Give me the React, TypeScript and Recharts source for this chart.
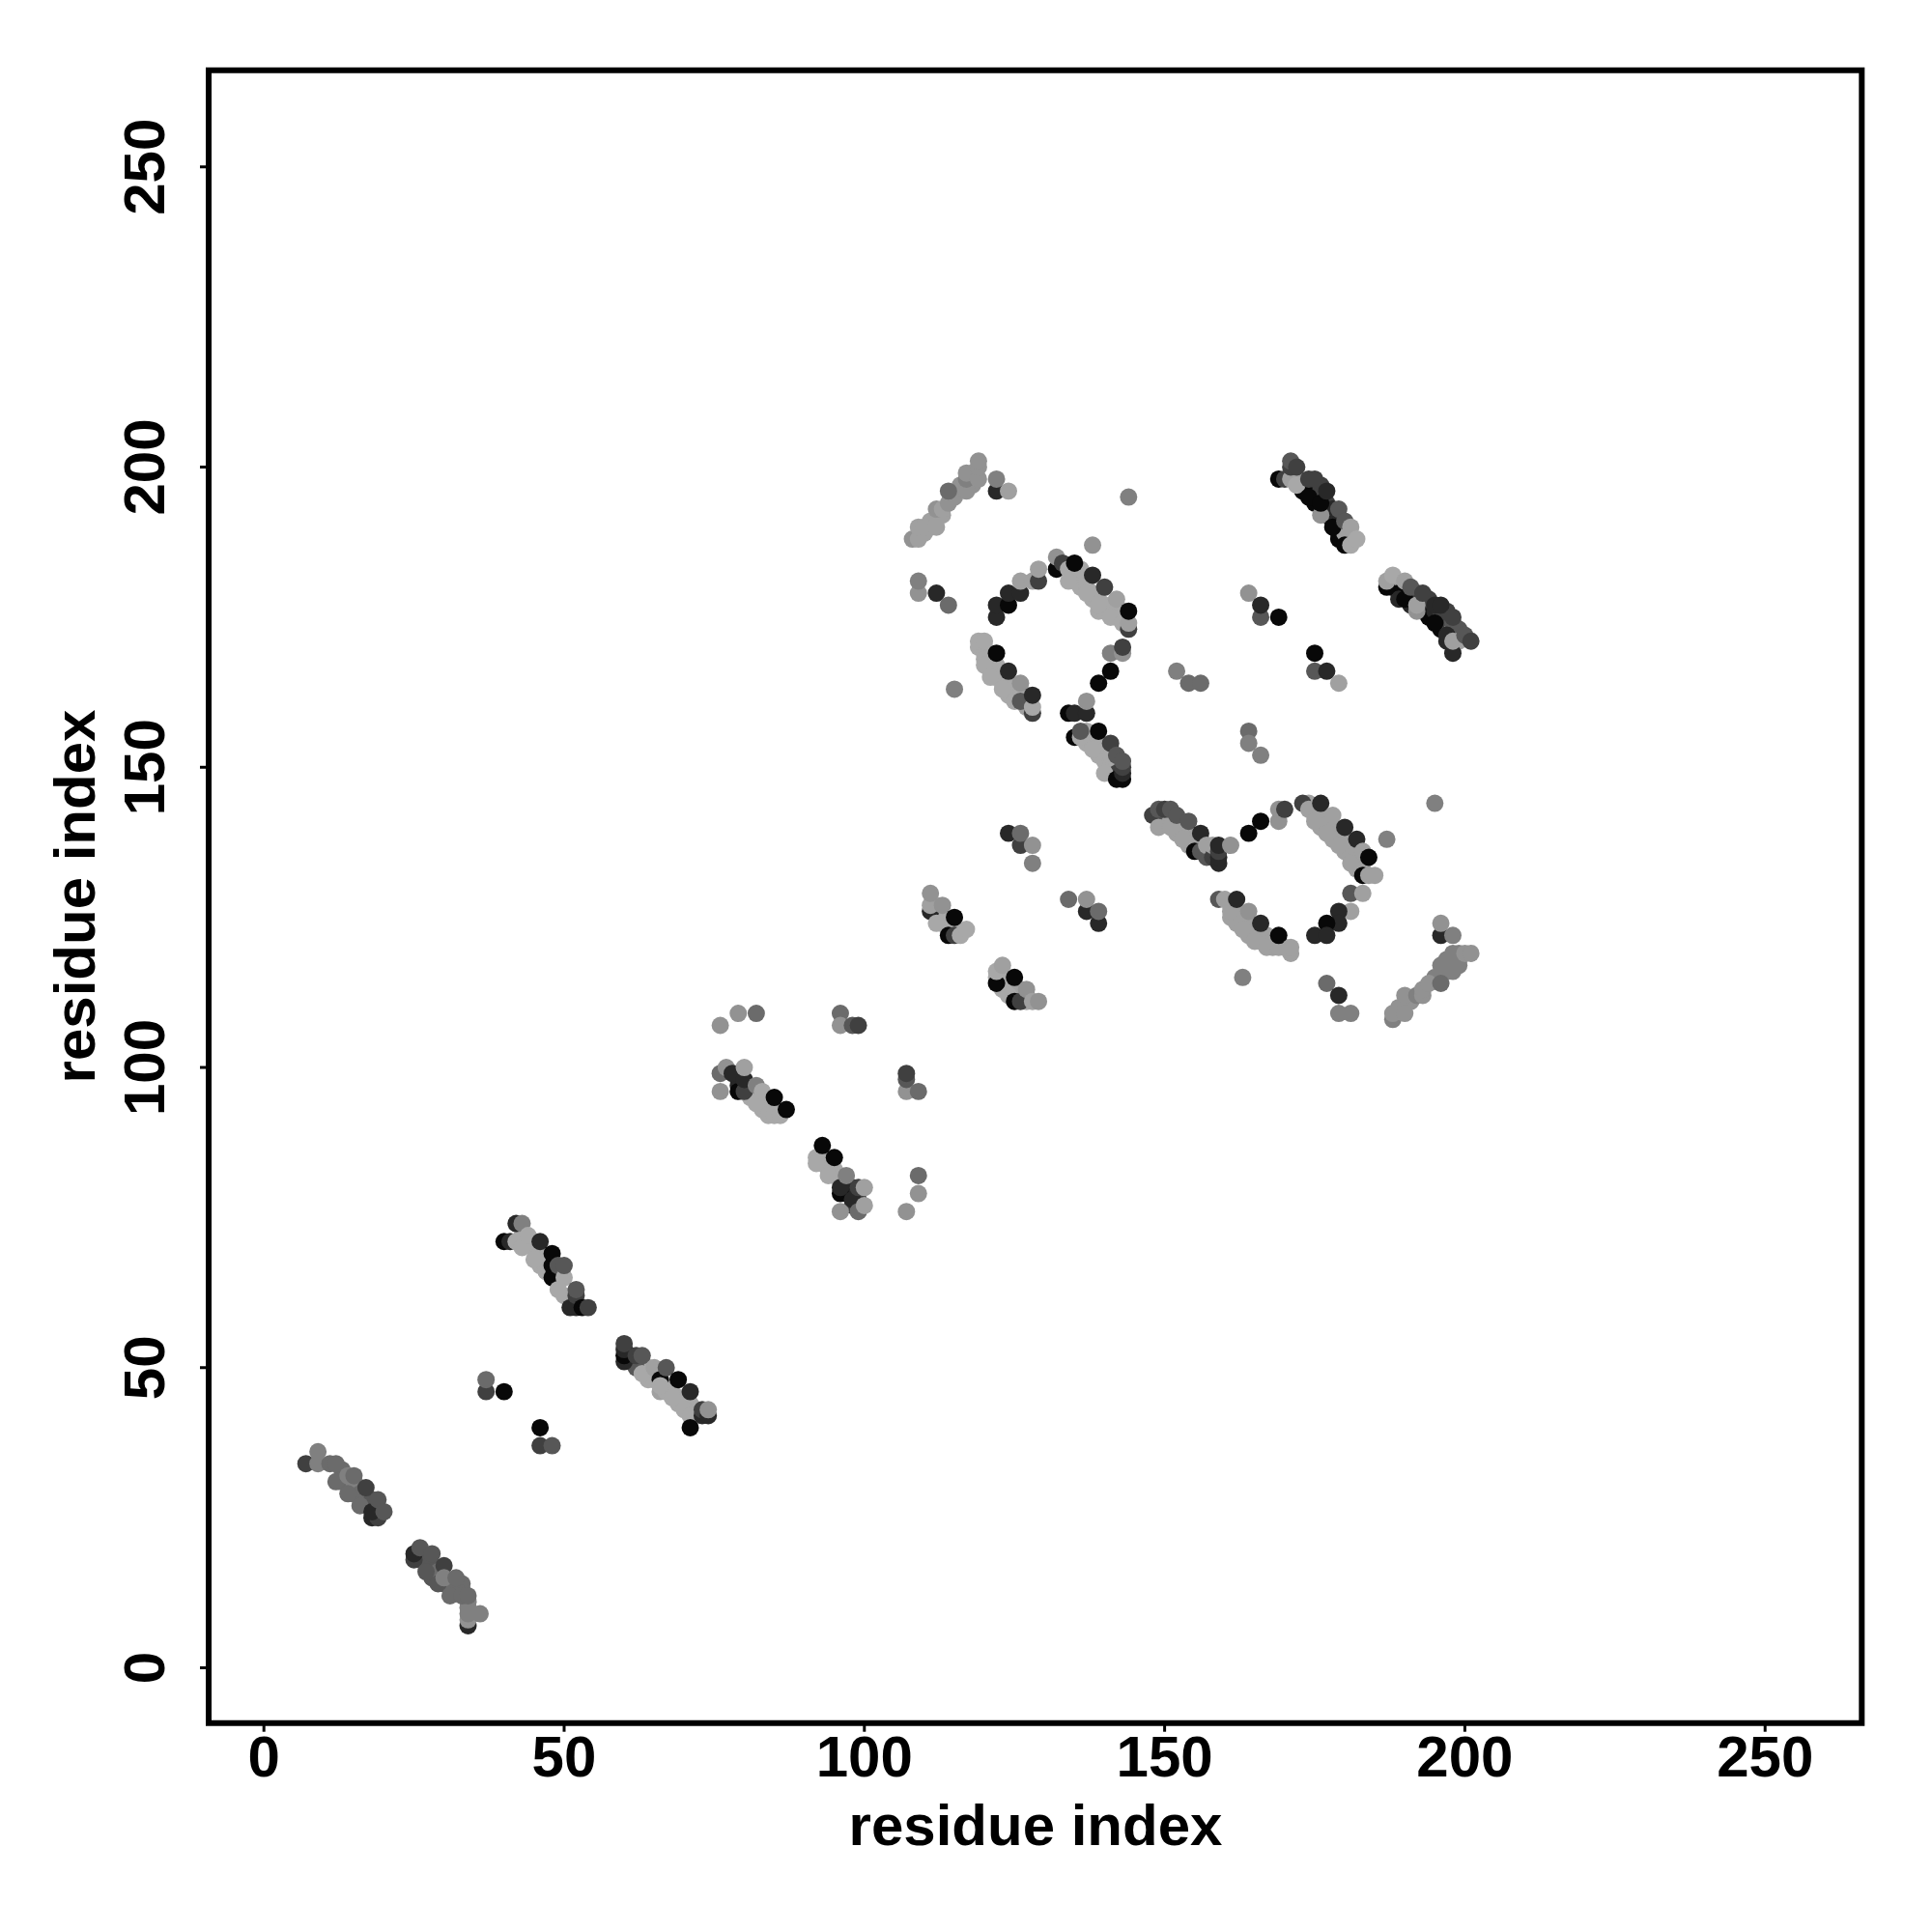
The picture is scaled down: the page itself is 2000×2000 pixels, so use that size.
import { ScatterChart, Scatter, XAxis, YAxis, ZAxis, Cell, ReferenceArea } from "recharts"

// contact points: [residue i, residue j, shade level]
// points mostly hidden under the others, drawn first
const crowdedLow = [
  [13, 33, 4], [13, 31, 4], [15, 29, 4], [15, 31, 5], [16, 30, 5], [17, 28, 4], [16, 29, 4], [18, 28, 3], [18, 27, 3],
  [27, 18, 3], [26, 18, 3], [28, 17, 3], [28, 15, 3], [29, 16, 4], [30, 14, 3], [31, 14, 4], [33, 13, 4], [33, 14, 4],
  [32, 13, 4], [34, 10, 5], [34, 11, 5],
  [43, 72, 8], [44, 71, 8], [45, 70, 8], [46, 69, 8], [46, 67, 8], [47, 68, 8], [48, 66, 8], [49, 65, 8], [49, 64, 8],
  [50, 62, 8], [64, 50, 8], [64, 48, 8], [65, 48, 8], [66, 46, 7], [67, 47, 8], [67, 46, 8], [68, 46, 8], [69, 45, 8],
  [69, 44, 8], [70, 45, 8], [71, 44, 8], [72, 43, 8], [72, 42, 8], [62, 50, 3], [61, 52, 2],
]
const crowdedMid = [
  [81, 95, 8], [82, 95, 8], [83, 94, 8], [83, 93, 8], [84, 94, 8], [85, 93, 8], [79, 98, 1], [79, 97, 1], [80, 97, 2],
  [93, 84, 8], [93, 85, 8], [94, 84, 8], [94, 83, 8], [95, 82, 8], [95, 83, 8], [96, 82, 8], [97, 79, 1], [98, 79, 2],
  [98, 80, 2], [98, 77, 2], [99, 78, 2], [97, 80, 1],
  [112, 127, 8], [112, 126, 8], [113, 125, 8], [113, 124, 8], [114, 124, 8], [114, 123, 8], [115, 123, 8],
  [122, 115, 8], [123, 115, 8], [123, 114, 8], [123, 113, 8], [124, 113, 8], [125, 112, 8], [125, 113, 8], [126, 112, 8],
  [127, 111, 8], [127, 112, 8], [126, 113, 7],
]
const crowdedUpper = [
  [110, 189, 7], [111, 190, 7], [111, 191, 7], [113, 192, 7], [115, 195, 6], [116, 197, 6], [118, 197, 6], [118, 199, 5],
  [135, 182, 8], [135, 181, 8], [136, 180, 8], [136, 182, 8], [137, 180, 8], [137, 181, 8], [138, 178, 8], [138, 179, 8],
  [139, 178, 8], [139, 176, 8], [140, 177, 8], [140, 176, 8], [141, 177, 8], [142, 175, 8], [142, 176, 8], [143, 176, 8],
  [143, 175, 8], [119, 170, 8], [120, 170, 8], [120, 169, 8], [121, 168, 8], [121, 167, 8], [121, 166, 8], [122, 167, 8],
  [122, 166, 8], [122, 165, 8], [123, 165, 8], [123, 164, 8], [124, 164, 8], [124, 163, 8], [124, 162, 8], [125, 163, 8],
  [125, 162, 8], [126, 162, 8], [127, 162, 8], [127, 161, 8], [127, 160, 7],
  [137, 156, 8], [137, 155, 8], [137, 154, 8], [138, 155, 8], [138, 154, 8], [139, 154, 8], [139, 153, 8], [139, 152, 8],
  [140, 153, 8], [140, 152, 8], [140, 151, 8], [141, 151, 8], [141, 150, 8], [141, 152, 8], [142, 150, 8], [142, 151, 8],
  [141, 149, 8], [143, 148, 0], [142, 149, 2],
]
const crowdedRight = [
  [173, 197, 1], [172, 198, 7], [173, 196, 0], [175, 196, 0], [175, 195, 1], [175, 194, 0], [177, 192, 0], [177, 193, 2],
  [177, 194, 2], [178, 193, 1], [178, 191, 1], [179, 190, 0], [179, 189, 0], [179, 188, 0], [178, 192, 1], [176, 196, 2],
  [176, 197, 2], [180, 189, 7],
  [188, 180, 1], [189, 180, 7], [189, 179, 0], [189, 178, 1], [191, 178, 1], [191, 177, 1], [192, 178, 2], [192, 179, 2],
  [193, 177, 1], [193, 176, 0], [194, 176, 1], [194, 175, 0], [194, 178, 2], [195, 176, 1], [196, 175, 1], [196, 176, 2],
  [197, 175, 2], [197, 176, 2], [196, 173, 0], [197, 174, 2], [198, 173, 7], [198, 174, 3], [199, 172, 3], [199, 173, 3],
  [199, 171, 7], [197, 171, 1],
  [150, 141, 7], [150, 142, 3], [151, 141, 7], [152, 139, 7], [152, 140, 7], [153, 140, 7], [154, 139, 7], [154, 138, 7],
  [154, 137, 7], [155, 137, 7], [155, 138, 7], [156, 137, 7], [156, 138, 7], [157, 136, 3], [157, 135, 3],
  [174, 144, 7], [175, 142, 7], [175, 143, 7], [176, 141, 7], [176, 142, 7], [176, 140, 7], [177, 140, 7], [177, 141, 7],
  [178, 138, 7], [178, 139, 7], [178, 140, 7], [179, 138, 7], [179, 139, 7], [180, 136, 7], [180, 137, 7], [180, 138, 7],
  [181, 135, 7], [181, 136, 7], [182, 134, 7], [182, 135, 7], [182, 136, 7], [183, 134, 7], [182, 133, 7],
  [161, 127, 7], [162, 126, 7], [162, 125, 7], [162, 124, 7], [163, 124, 7], [163, 125, 7], [164, 123, 7], [164, 124, 7],
  [164, 122, 7], [165, 122, 7], [165, 123, 7], [166, 121, 7], [166, 122, 7], [167, 121, 7], [167, 122, 7], [168, 120, 7],
  [168, 121, 7], [170, 120, 7],
  [189, 110, 6], [191, 111, 6], [195, 115, 5], [197, 117, 5], [197, 118, 5], [197, 116, 5], [198, 118, 5], [199, 118, 5],
  [199, 119, 5], [198, 116, 5],
]

const strandA = [
  [7, 34, 2], [9, 34, 5], [11, 34, 4], [12, 34, 4], [9, 36, 5], [12, 31, 4], [14, 29, 4], [14, 32, 5], [15, 32, 4],
  [16, 27, 4], [18, 25, 1], [19, 25, 2], [18, 26, 1], [17, 30, 2], [19, 28, 3], [20, 26, 3],
]
const strandB = [
  [25, 18, 2], [25, 19, 1], [26, 20, 3], [28, 19, 3], [27, 16, 3], [30, 17, 2], [29, 14, 3], [30, 15, 5], [32, 15, 4],
  [31, 12, 4], [33, 12, 4], [34, 7, 1], [34, 8, 6], [34, 9, 5], [34, 12, 4], [36, 9, 5],
]
const isolatedLow = [
  [37, 46, 2], [37, 48, 4], [40, 46, 0], [46, 40, 0], [46, 37, 2], [48, 37, 3],
]
const strandC = [
  [40, 71, 0], [41, 71, 1], [42, 74, 1], [42, 71, 8], [43, 70, 8], [43, 74, 5], [44, 72, 8], [45, 68, 8], [46, 71, 1],
  [47, 66, 8], [48, 65, 0], [48, 67, 0], [48, 69, 0], [49, 67, 3], [50, 65, 8], [49, 63, 8], [50, 67, 3],
  [51, 60, 1], [52, 60, 1], [52, 62, 2], [52, 63, 3], [53, 60, 0], [54, 60, 2],
]
const strandD = [
  [60, 51, 1], [60, 52, 0], [60, 53, 1], [60, 54, 2], [62, 52, 2], [63, 49, 8], [63, 52, 3], [65, 50, 7], [66, 48, 0],
  [66, 47, 8], [67, 50, 3], [68, 45, 8], [69, 48, 0], [70, 43, 8], [71, 46, 1], [71, 42, 8], [71, 40, 0],
  [73, 42, 1], [73, 43, 2], [74, 42, 1], [74, 43, 6],
]
const strandE = [
  [76, 107, 6], [79, 109, 6], [82, 109, 4], [96, 109, 4], [96, 107, 6], [98, 107, 3], [99, 107, 2],
  [76, 99, 4], [77, 100, 6], [76, 96, 6], [78, 99, 1], [79, 96, 0], [80, 96, 2], [80, 98, 1], [80, 100, 7],
  [82, 94, 8], [82, 97, 5], [83, 96, 8], [84, 92, 8], [85, 92, 8], [86, 92, 8], [85, 95, 0], [87, 93, 0],
  [107, 96, 6], [107, 98, 3], [107, 99, 2], [109, 96, 4],
]
const strandF = [
  [92, 85, 8], [92, 84, 8], [93, 87, 0], [94, 82, 8], [95, 85, 0], [96, 76, 6], [96, 79, 0], [96, 80, 1], [97, 82, 5],
  [98, 78, 1], [99, 76, 4], [99, 80, 2], [100, 77, 7], [100, 80, 7], [109, 82, 4], [109, 79, 6], [107, 76, 6],
]
const strandG = [
  [111, 126, 1], [111, 127, 7], [111, 129, 6], [113, 127, 6], [112, 124, 8], [114, 122, 0], [115, 122, 2], [116, 122, 8],
  [117, 123, 8], [115, 125, 0], [134, 128, 4], [137, 126, 1], [137, 128, 6], [139, 124, 1], [139, 126, 4],
  [124, 139, 1], [126, 137, 2], [126, 139, 4], [128, 137, 6], [128, 134, 5],
]
const strandH = [
  [122, 114, 0], [122, 116, 8], [123, 117, 7], [124, 112, 8], [125, 111, 0], [125, 115, 0], [126, 111, 2], [127, 113, 6],
  [128, 111, 7], [129, 111, 6],
]
const arcTop = [
  [108, 188, 6], [109, 188, 7], [109, 190, 7], [110, 190, 7], [112, 190, 7], [112, 193, 6], [113, 193, 7], [114, 194, 6],
  [114, 196, 4], [117, 196, 6], [117, 198, 5], [117, 199, 6], [119, 198, 6], [119, 200, 6], [119, 201, 6],
  [122, 196, 1], [122, 198, 5], [124, 196, 7], [144, 195, 5], [138, 187, 6],
  [109, 179, 6], [109, 181, 5], [112, 179, 1], [114, 177, 4],
]
const loopUpper = [
  [122, 175, 1], [122, 177, 1], [124, 177, 0], [124, 179, 1], [126, 179, 1], [126, 181, 7], [128, 181, 7], [129, 181, 2],
  [129, 183, 7], [132, 183, 0], [132, 185, 6], [133, 184, 2], [134, 183, 8], [134, 181, 8], [136, 183, 8], [135, 184, 0],
  [137, 179, 8], [138, 182, 1], [139, 177, 8], [140, 180, 2], [141, 175, 8], [142, 178, 7], [143, 174, 8], [144, 173, 2],
  [144, 174, 7], [144, 176, 0], [141, 169, 5], [143, 169, 6], [143, 170, 2], [141, 166, 0], [139, 164, 0],
  [115, 163, 5],
]
const loopLower = [
  [119, 171, 8], [120, 171, 8], [120, 168, 8], [120, 167, 8], [122, 169, 0], [121, 165, 8], [123, 163, 8], [124, 166, 1],
  [125, 161, 8], [126, 161, 3], [126, 164, 6], [128, 159, 2], [128, 160, 8], [128, 162, 1],
]
const strandI = [
  [134, 159, 0], [135, 159, 1], [135, 155, 0], [136, 155, 8], [136, 156, 3], [137, 159, 1], [137, 161, 6], [138, 153, 8],
  [139, 156, 0], [140, 149, 8], [141, 154, 2], [142, 148, 0], [142, 152, 3], [143, 149, 1], [143, 150, 2], [143, 151, 3],
]
const helixRightTop = [
  [169, 198, 0], [170, 198, 2], [171, 198, 7], [172, 197, 8], [171, 200, 2], [171, 201, 3], [172, 200, 2], [174, 195, 0],
  [174, 198, 2], [175, 198, 2], [176, 192, 6], [176, 194, 0], [177, 196, 1], [178, 190, 0], [179, 193, 3], [180, 187, 0],
  [180, 191, 3], [181, 187, 8], [181, 190, 7], [182, 188, 8],
]
const helixRightLow = [
  [187, 180, 0], [187, 181, 7], [188, 182, 8], [190, 178, 0], [190, 181, 7], [191, 180, 3], [192, 176, 6], [192, 177, 7],
  [193, 179, 2], [195, 174, 0], [195, 177, 1], [196, 177, 1], [197, 172, 1], [198, 169, 1], [198, 171, 7], [198, 175, 2],
  [200, 172, 3], [201, 171, 2],
]
const isolatedRight = [
  [152, 166, 5], [154, 164, 4], [156, 164, 4], [164, 179, 6], [166, 175, 3], [166, 177, 1], [169, 175, 0],
  [175, 169, 0], [175, 166, 3], [177, 166, 1], [179, 164, 7], [164, 156, 4], [164, 154, 5], [166, 152, 5],
  [195, 144, 5], [187, 138, 5],
]
const sheetLeft = [
  [148, 142, 2], [149, 140, 7], [149, 143, 3], [150, 143, 2], [151, 140, 7], [151, 143, 3], [152, 142, 3], [153, 138, 7],
  [154, 141, 3], [155, 136, 0], [156, 136, 3], [156, 139, 1], [157, 137, 7], [158, 135, 2], [158, 137, 7], [159, 134, 1],
  [159, 135, 1], [159, 136, 2], [159, 137, 1], [161, 137, 6], [164, 139, 0], [166, 141, 0],
  [169, 141, 6], [169, 143, 6], [170, 143, 2],
]
const loopRight = [
  [173, 144, 2], [174, 143, 7], [175, 141, 7], [176, 144, 1], [177, 139, 7], [178, 142, 7], [179, 137, 7], [180, 140, 1],
  [181, 134, 7], [182, 138, 1], [183, 136, 7], [183, 132, 0], [184, 132, 7], [185, 132, 7], [184, 135, 0],
  [181, 126, 7], [181, 129, 3], [183, 129, 7], [179, 126, 1], [179, 124, 1], [177, 124, 0], [175, 122, 1], [177, 122, 1],
]
const sheetLower = [
  [159, 128, 3], [160, 128, 7], [161, 125, 7], [161, 126, 7], [162, 128, 1], [163, 123, 7], [164, 126, 6], [165, 121, 7],
  [166, 124, 1], [167, 120, 7], [169, 120, 7], [169, 122, 0], [171, 119, 7], [171, 120, 7], [163, 115, 5],
]
const arcLower = [
  [177, 114, 4], [179, 112, 1], [179, 109, 5], [181, 109, 5], [188, 108, 5], [188, 109, 6], [190, 109, 6], [190, 112, 6],
  [192, 112, 5], [193, 112, 6], [193, 113, 6], [194, 114, 6], [196, 114, 4], [196, 117, 5], [198, 117, 5], [199, 117, 5],
  [198, 119, 5], [200, 119, 6], [201, 119, 6], [196, 122, 1], [198, 122, 5], [196, 124, 6],
]

const axisTicks = [0, 50, 100, 150, 200, 250]
const shades = ["#080808", "#282828", "#404040", "#575757", "#6b6b6b", "#808080", "#929292", "#a0a0a0", "#a8a8a8"]

const contacts = [
  ...crowdedLow, ...crowdedMid, ...crowdedUpper, ...crowdedRight,
  ...strandA, ...strandB, ...isolatedLow, ...strandC, ...strandD, ...strandE, ...strandF, ...strandG, ...strandH,
  ...arcTop, ...loopUpper, ...loopLower, ...strandI, ...helixRightTop, ...helixRightLow, ...isolatedRight,
  ...sheetLeft, ...loopRight, ...sheetLower, ...arcLower,
].map(([i, j, level]) => ({ i, j, level }))

const font = { fontFamily: "Liberation Sans", fontWeight: 700, fontSize: 60, fill: "#000" }

const XTick = ({ x, y, payload }: any) => (
  <text x={x} y={y + 44} textAnchor="middle" {...font}>
    {payload.value}
  </text>
)

const YTick = ({ x, y, payload }: any) => (
  <text x={x - 35} y={y} textAnchor="middle" transform={`rotate(-90 ${x - 35} ${y})`} {...font}>
    {payload.value}
  </text>
)

export default function App() {
  return (
    <div style={{ position: "absolute", left: 0, top: 0, width: 2000, height: 2000, background: "#fff" }}>
      <ScatterChart width={2000} height={2000} margin={{ top: 72.7, right: 72.7, bottom: 0.3, left: 0 }}>
        <XAxis
          type="number"
          dataKey="i"
          height={216}
          domain={[-9.2, 266.1]}
          ticks={axisTicks}
          allowDataOverflow
          interval={0}
          axisLine={false}
          tickSize={9}
          tickLine={{ stroke: "#000", strokeWidth: 3 }}
          tick={<XTick />}
        />
        <YAxis
          type="number"
          dataKey="j"
          width={216}
          domain={[-9.2, 266.1]}
          ticks={axisTicks}
          allowDataOverflow
          interval={0}
          axisLine={false}
          tickSize={9}
          tickLine={{ stroke: "#000", strokeWidth: 3 }}
          tick={<YTick />}
        />
        <ZAxis dataKey="level" range={[254, 254]} />
        <ReferenceArea x1={-9.2} x2={266.1} y1={-9.2} y2={266.1} fill="none" stroke="#000" strokeWidth={6} />
        <Scatter data={contacts} isAnimationActive={false}>
          {contacts.map((c, index) => (
            <Cell key={`cell-${index}`} fill={shades[c.level]} />
          ))}
        </Scatter>
        <text x={1072} y={1910} textAnchor="middle" {...font}>
          residue index
        </text>
        <text x={98} y={928} textAnchor="middle" transform="rotate(-90 98 928)" {...font}>
          residue index
        </text>
      </ScatterChart>
    </div>
  )
}
